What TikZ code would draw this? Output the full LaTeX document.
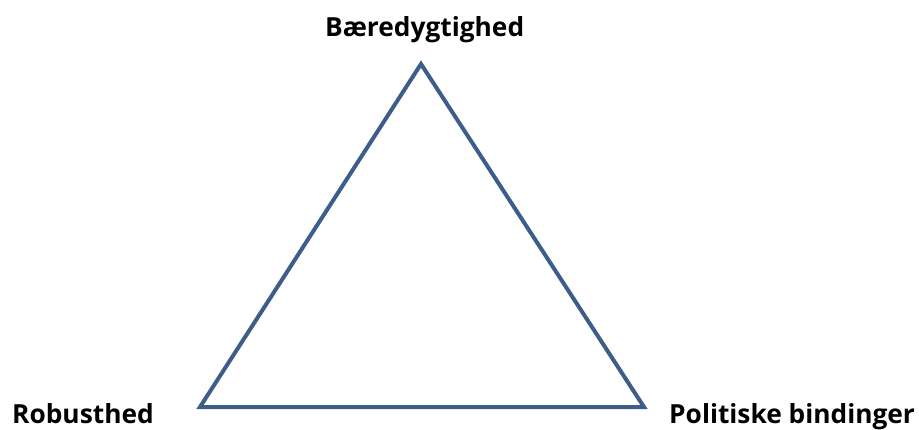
\documentclass[tikz,border=0pt]{standalone}
\usepackage{fontspec}
\setmainfont{Open Sans}
\definecolor{triblue}{HTML}{3E5E8A}
\begin{document}
\begin{tikzpicture}[x=1pt,y=-1pt,
  lbl/.style={font=\bfseries\fontsize{26.3}{31}\selectfont, inner sep=0pt, anchor=base west},
  edge/.style={draw=triblue, line width=4pt, line join=miter}]
\useasboundingbox (0,0) rectangle (919,429);
\coordinate (top) at (421,64);
\coordinate (bl) at (200,407);
\coordinate (br) at (644,407);
\draw[edge] (top) -- (bl) -- (br) -- cycle;
\node[lbl] (t) at (325,36) {Bæredygtighed};
\node[lbl] (l) at (12,423) {Robusthed};
\node[lbl] (r) at (669,423) {Politiske bindinger};
\end{tikzpicture}
\end{document}
